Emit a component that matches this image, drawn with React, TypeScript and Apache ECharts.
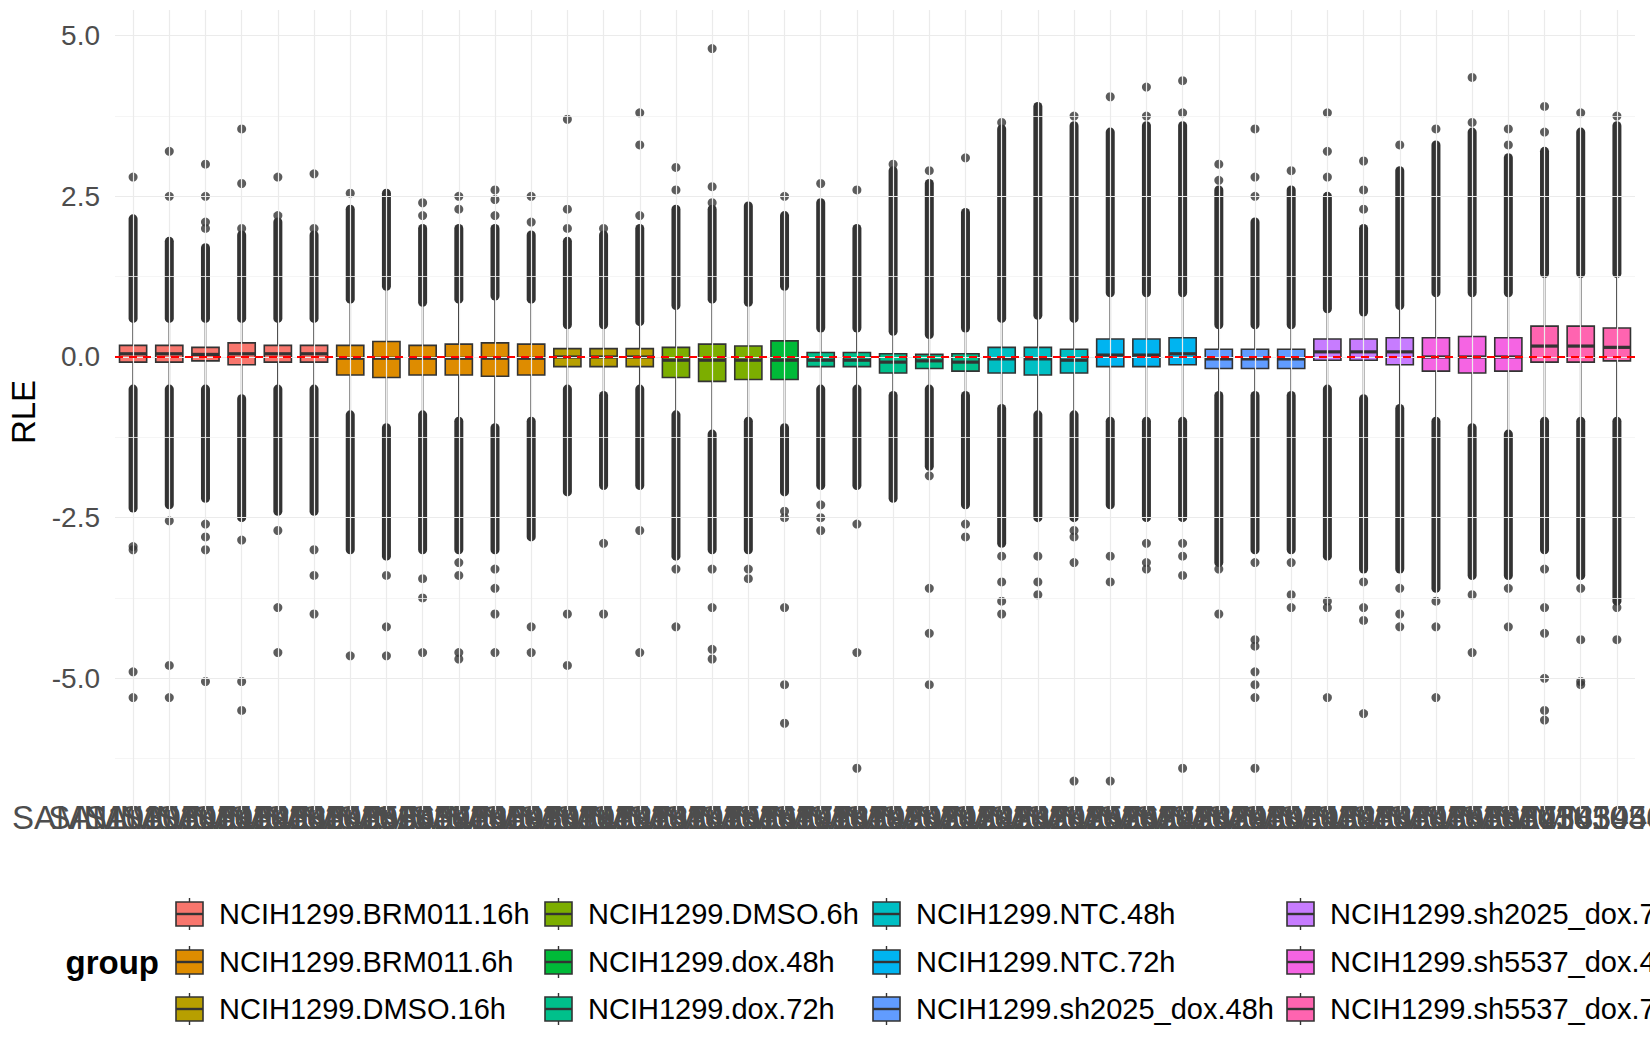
import React, { useEffect, useRef } from "react";
import * as echarts from "echarts";

const groupNames = [
  "NCIH1299.BRM011.16h", "NCIH1299.BRM011.6h", "NCIH1299.DMSO.16h", "NCIH1299.DMSO.6h",
  "NCIH1299.dox.48h", "NCIH1299.dox.72h", "NCIH1299.NTC.48h", "NCIH1299.NTC.72h",
  "NCIH1299.sh2025_dox.48h", "NCIH1299.sh2025_dox.72h", "NCIH1299.sh5537_dox.48h", "NCIH1299.sh5537_dox.72h",
];
const groupColors = [
  "#F8766D", "#DE8C00", "#B79F00", "#7CAE00", "#00BA38", "#00C08B",
  "#00BFC4", "#00B4F0", "#619CFF", "#C77CFF", "#F564E3", "#FF64B0",
];
const groupSizes = [6, 6, 3, 3, 1, 5, 3, 3, 3, 3, 3, 3];

const sampleIds = [
  "401", "402", "403", "404", "405", "406", "407", "408", "409", "410", "411", "412", "413", "414",
  "415", "416", "417", "418", "419", "420", "421", "422", "423", "424", "425", "426", "427", "428",
  "429", "430", "431", "432", "433", "434", "435", "436", "437", "438", "439", "440", "441", "442",
];
const sampleNames = sampleIds.map((s) => "SAMN10305" + s);

const q1 = [-0.08,-0.08,-0.06,-0.12,-0.08,-0.08,-0.28,-0.32,-0.28,-0.28,-0.3,-0.28,-0.15,-0.15,-0.15,-0.32,-0.38,-0.35,-0.35,-0.15,-0.15,-0.25,-0.18,-0.22,-0.25,-0.28,-0.25,-0.15,-0.15,-0.12,-0.18,-0.18,-0.18,-0.05,-0.05,-0.12,-0.22,-0.25,-0.22,-0.08,-0.08,-0.06];
const medians = [0.05,0.05,0.04,0.05,0.05,0.05,-0.02,-0.02,-0.02,-0.02,-0.02,-0.02,0,0,0,-0.05,-0.05,-0.05,-0.05,-0.05,-0.05,-0.08,-0.06,-0.08,-0.03,-0.03,-0.05,0.03,0.03,0.05,-0.03,-0.03,-0.03,0.08,0.08,0.08,0,0,0,0.17,0.17,0.15];
const q3 = [0.18,0.18,0.15,0.22,0.18,0.18,0.18,0.24,0.18,0.2,0.22,0.2,0.13,0.13,0.13,0.15,0.2,0.17,0.25,0.07,0.07,0.05,0.04,0.05,0.15,0.15,0.12,0.28,0.28,0.3,0.12,0.12,0.12,0.28,0.28,0.3,0.3,0.32,0.3,0.48,0.48,0.45];
const whiskerLow = [-0.5,-0.5,-0.5,-0.65,-0.5,-0.5,-0.9,-1.1,-0.9,-1,-1.1,-1,-0.5,-0.6,-0.5,-0.9,-1.2,-1,-1.1,-0.5,-0.5,-0.6,-0.5,-0.6,-0.8,-0.9,-0.9,-1,-1,-1,-0.6,-0.6,-0.6,-0.5,-0.65,-0.8,-1,-1.1,-1.2,-1,-1,-1];
const whiskerHigh = [0.6,0.6,0.6,0.6,0.6,0.6,0.9,1.1,0.85,0.9,0.95,0.9,0.5,0.5,0.55,0.8,0.9,0.85,1.1,0.45,0.45,0.4,0.35,0.45,0.6,0.65,0.6,1,1,1,0.5,0.5,0.5,0.75,0.7,0.8,1,1,1,1.3,1.3,1.3];
const denseHighTop = [2.15,1.8,1.7,1.9,2.1,1.9,2.3,2.55,2.0,2.0,2.0,1.9,1.8,1.9,2.0,2.3,2.3,2.35,2.2,2.4,2.0,2.9,2.7,2.25,3.55,3.9,3.6,3.5,3.6,3.6,2.6,2.1,2.6,2.5,2.0,2.9,3.3,3.5,3.1,3.2,3.5,3.6];
const denseLowBottom = [-2.35,-2.3,-2.2,-2.5,-2.4,-2.4,-3.0,-3.1,-3.0,-3.0,-3.0,-2.8,-2.1,-2.0,-2.0,-3.1,-3.0,-3.0,-2.1,-2.0,-2.0,-2.2,-1.7,-2.3,-2.9,-2.5,-2.5,-2.3,-2.5,-2.5,-3.2,-3.0,-3.0,-3.1,-3.3,-3.3,-3.6,-3.4,-3.4,-3.0,-3.4,-3.8];
const outliers = [
  [2.8,-2.95,-3.0,-4.9,-5.3],[2.5,3.2,-2.55,-4.8,-5.3],[2.0,2.1,2.5,3.0,-2.6,-2.8,-3.0,-5.05],
  [2.0,2.7,3.55,-2.85,-5.05,-5.5],[2.2,2.8,-2.7,-3.9,-4.6],[2.0,2.85,-3.0,-3.4,-4.0],
  [2.55,-4.65],[-3.4,-4.2,-4.65],[2.2,2.4,-3.45,-3.75,-4.6],[2.3,2.5,-3.2,-3.4,-4.6,-4.7],
  [2.2,2.45,2.6,-3.3,-3.6,-4.0,-4.6],[2.1,2.5,-4.2,-4.6],[2.0,2.3,3.7,-4.0,-4.8],[2.0,-2.9,-4.0],
  [2.2,3.3,3.8,-2.7,-4.6],[2.6,2.95,-3.3,-4.2],[2.4,2.65,4.8,-3.3,-3.9,-4.55,-4.7],[-3.3,-3.45],
  [2.5,-2.4,-2.5,-3.9,-5.1,-5.7],[2.7,-2.3,-2.5,-2.7],[2.6,-2.6,-4.6,-6.4],[3.0],
  [2.9,-1.85,-3.6,-4.3,-5.1],[3.1,-2.6,-2.8],[3.65,-3.1,-3.5,-3.8,-4.0],[-3.1,-3.5,-3.7],
  [3.75,-2.7,-2.8,-3.2,-6.6],[4.05,-3.1,-3.5,-6.6],[3.75,4.2,-2.9,-3.2,-3.3],[3.8,4.3,-2.9,-3.1,-3.4,-6.4],
  [2.75,3.0,-3.3,-4.0],[2.5,2.8,3.55,-3.2,-4.4,-4.5,-4.9,-5.1,-5.3,-6.4],[2.9,-3.2,-3.7,-3.9],
  [2.8,3.2,3.8,-3.8,-3.9,-5.3],[2.3,2.6,3.05,-3.5,-3.9,-4.1,-5.55],[3.3,-3.6,-4.0,-4.2],
  [3.55,-3.8,-4.2,-5.3],[3.65,4.35,-3.7,-4.6],[3.3,3.55,-3.6,-4.2],
  [3.5,3.9,-3.3,-3.9,-4.3,-5.0,-5.5,-5.65],[3.8,-3.6,-4.4,-5.05,-5.1],[3.75,-3.9,-4.4],
];
const majorTicks = [-5, -2.5, 0, 2.5, 5];
const minorTicks = [-6.25, -3.75, -1.25, 1.25, 3.75];

export default function App() {
  const ref = useRef<HTMLDivElement>(null);
  useEffect(() => {
    document.body.style.margin = "0";
    const chart = echarts.init(ref.current!, null, { renderer: "svg" });
    const boxGroup: number[] = [];
    groupSizes.forEach((n, g) => { for (let i = 0; i < n; i++) boxGroup.push(g); });

    const boxData = sampleNames.map((_, i) => [i, whiskerLow[i], q1[i], medians[i], q3[i], whiskerHigh[i], boxGroup[i]]);
    const streakData: number[][] = [];
    sampleNames.forEach((_, i) => {
      streakData.push([i, whiskerHigh[i], denseHighTop[i]]);
      streakData.push([i, denseLowBottom[i], whiskerLow[i]]);
    });
    const pointData: number[][] = [];
    outliers.forEach((arr, i) => arr.forEach((v) => pointData.push([i, v])));

    const gridLines: any[] = [
      ...majorTicks.map((v) => ({ yAxis: v, lineStyle: { color: "#EBEBEB", width: 1.2, type: "solid" } })),
      ...minorTicks.map((v) => ({ yAxis: v, lineStyle: { color: "#F2F2F2", width: 0.8, type: "solid" } })),
      ...sampleNames.map((s) => ({ xAxis: s, lineStyle: { color: "#EBEBEB", width: 1.2, type: "solid" } })),
    ];

    const legendEls: any[] = [];
    const colX = [176, 545, 873, 1287];
    const rowY = [914, 962, 1009];
    groupNames.forEach((name, g) => {
      const cx = colX[Math.floor(g / 3)];
      const cy = rowY[g % 3];
      legendEls.push(
        { type: "line", shape: { x1: cx + 13.5, y1: cy - 16, x2: cx + 13.5, y2: cy + 16 }, style: { stroke: "#333", lineWidth: 1.4 } },
        { type: "rect", shape: { x: cx, y: cy - 12, width: 27, height: 24 }, style: { fill: groupColors[g], stroke: "#333", lineWidth: 1.6 } },
        { type: "line", shape: { x1: cx, y1: cy, x2: cx + 27, y2: cy }, style: { stroke: "#333", lineWidth: 2.4 } },
        { type: "text", x: cx + 43, y: cy, style: { text: name, fill: "#000", font: "29px 'Liberation Sans', Arial, sans-serif", verticalAlign: "middle" } },
      );
    });
    legendEls.push({ type: "text", x: 159, y: 962, style: { text: "group", fill: "#000", font: "bold 33px 'Liberation Sans', Arial, sans-serif", align: "right", verticalAlign: "middle" } });
    legendEls.push({ type: "text", x: 23, y: 412, rotation: Math.PI / 2, style: { text: "RLE", fill: "#000", font: "33px 'Liberation Sans', Arial, sans-serif", align: "center", verticalAlign: "middle" } });

    chart.setOption({
      animation: false,
      backgroundColor: "#fff",
      textStyle: { fontFamily: "'Liberation Sans', Arial, sans-serif" },
      grid: { left: 115, width: 1520, top: 10, height: 800, containLabel: false, outerBoundsMode: "none" },
      xAxis: {
        type: "category", data: sampleNames, boundaryGap: true,
        axisLine: { show: false }, axisTick: { show: false }, splitLine: { show: false },
        axisLabel: { interval: 0, fontSize: 33, color: "#4D4D4D", margin: -9, hideOverlap: false },
      },
      yAxis: {
        type: "value", min: -7.05, max: 5.4,
        axisLine: { show: false }, axisTick: { show: false }, splitLine: { show: false },
        axisLabel: { customValues: majorTicks, fontSize: 28, color: "#4D4D4D", margin: 15, formatter: (v: number) => v.toFixed(1) },
      },
      graphic: legendEls,
      series: [
        {
          type: "scatter", data: [], z: 0, silent: true,
          markLine: { silent: true, symbol: ["none", "none"], label: { show: false }, data: gridLines, animation: false },
        },
        {
          type: "custom", z: 2, silent: true, data: streakData,
          renderItem: (params: any, api: any) => {
            const a = api.coord([api.value(0), api.value(1)]);
            const b = api.coord([api.value(0), api.value(2)]);
            return { type: "line", shape: { x1: a[0], y1: a[1], x2: b[0], y2: b[1] }, style: { stroke: "#333333", lineWidth: 9, lineCap: "round" } };
          },
        },
        {
          type: "custom", z: 3, silent: true, data: boxData,
          renderItem: (params: any, api: any) => {
            const x = api.value(0);
            const pLo = api.coord([x, api.value(1)]);
            const pQ1 = api.coord([x, api.value(2)]);
            const pMed = api.coord([x, api.value(3)]);
            const pQ3 = api.coord([x, api.value(4)]);
            const pHi = api.coord([x, api.value(5)]);
            const w = api.size([1, 0])[0] * 0.75;
            const cx = pMed[0];
            const col = groupColors[api.value(6)];
            return {
              type: "group",
              children: [
                { type: "line", shape: { x1: cx, y1: pLo[1], x2: cx, y2: pQ1[1] }, style: { stroke: "#333333", lineWidth: 1.6 } },
                { type: "line", shape: { x1: cx, y1: pQ3[1], x2: cx, y2: pHi[1] }, style: { stroke: "#333333", lineWidth: 1.6 } },
                { type: "rect", shape: { x: cx - w / 2, y: pQ3[1], width: w, height: pQ1[1] - pQ3[1] }, style: { fill: col, stroke: "#333333", lineWidth: 1.6 } },
                { type: "line", shape: { x1: cx - w / 2, y1: pMed[1], x2: cx + w / 2, y2: pMed[1] }, style: { stroke: "#333333", lineWidth: 3.2 } },
              ],
            };
          },
          markLine: {
            silent: true, symbol: ["none", "none"], label: { show: false }, z: 10,
            lineStyle: { color: "#FF0000", type: [8, 6], width: 2.2 },
            data: [{ yAxis: 0 }],
          },
        },
        {
          type: "scatter", z: 3, data: pointData, symbolSize: 9, silent: true,
          itemStyle: { color: "#333333" },
        },
      ],
    });
    return () => chart.dispose();
  }, []);
  return <div ref={ref} style={{ width: 1650, height: 1050 }} />;
}
